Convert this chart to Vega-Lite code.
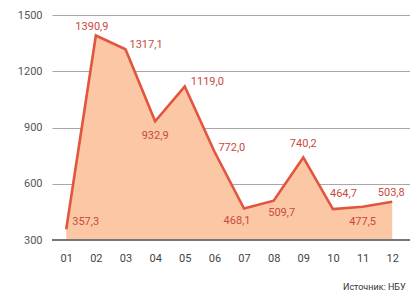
{
  "$schema": "https://vega.github.io/schema/vega-lite/v6.json",
  "width": 358,
  "height": 225,
  "autosize": {"type": "none"},
  "padding": {"left": 52, "top": 15, "right": 0, "bottom": 56},
  "background": "white",
  "title": {"text": "Источник: НБУ", "orient": "bottom", "anchor": "end", "fontSize": 9, "fontWeight": "normal", "color": "#333", "font": "Roboto", "offset": 20, "dx": -5},
  "config": {"view": {"stroke": null}, "font": "Roboto"},
  "data": {"values": [
    {"m": 1, "v": 357.3, "t": "357,3"},
    {"m": 2, "v": 1390.9, "t": "1390,9"},
    {"m": 3, "v": 1317.1, "t": "1317,1"},
    {"m": 4, "v": 932.9, "t": "932,9"},
    {"m": 5, "v": 1119.0, "t": "1119,0"},
    {"m": 6, "v": 772.0, "t": "772,0"},
    {"m": 7, "v": 468.1, "t": "468,1"},
    {"m": 8, "v": 509.7, "t": "509,7"},
    {"m": 9, "v": 740.2, "t": "740,2"},
    {"m": 10, "v": 464.7, "t": "464,7"},
    {"m": 11, "v": 477.5, "t": "477,5"},
    {"m": 12, "v": 503.8, "t": "503,8"}
  ]},
  "encoding": {
    "x": {"field": "m", "type": "quantitative", "scale": {"domain": [0.52, 12.6], "nice": false, "zero": false},
      "axis": {"values": [1,2,3,4,5,6,7,8,9,10,11,12], "labelExpr": "datum.value < 10 ? '0' + datum.value : '' + datum.value", "title": null, "domain": false, "ticks": false, "grid": false, "labelPadding": 12, "labelFontSize": 11, "labelColor": "#444", "labelDx": -2, "labelFont": "Roboto"}},
    "y": {"field": "v", "type": "quantitative", "scale": {"domain": [300, 1500], "nice": false, "zero": false},
      "axis": {"values": [300, 600, 900, 1200, 1500], "format": "d", "title": null, "domain": false, "ticks": false, "grid": true, "gridColor": "#a8a8a8", "gridWidth": 1, "labelPadding": 10, "labelFontSize": 11, "labelColor": "#555", "labelFont": "Roboto"}}
  },
  "layer": [
    {"mark": {"type": "area", "color": "#fbc7a4", "opacity": 1}, "encoding": {"y2": {"datum": 300}}},
    {"mark": {"type": "rule", "color": "#777", "strokeWidth": 1.2}, "encoding": {"x": {"datum": 0.52}, "x2": {"datum": 12.6}, "y": {"datum": 300}}},
    {"mark": {"type": "line", "color": "#e2553f", "strokeWidth": 2.6}},
    {"transform": [{"filter": "datum.m == 1"}], "mark": {"type": "text", "align": "left", "dx": 6, "dy": -7, "fontSize": 11, "color": "#c94a3e"}, "encoding": {"text": {"field": "t"}}},
    {"transform": [{"filter": "datum.m == 2"}], "mark": {"type": "text", "align": "center", "dx": -4, "dy": -8, "fontSize": 11, "color": "#c94a3e"}, "encoding": {"text": {"field": "t"}}},
    {"transform": [{"filter": "datum.m == 3 || datum.m == 6"}], "mark": {"type": "text", "align": "left", "dx": 4, "dy": -4, "fontSize": 11, "color": "#c94a3e"}, "encoding": {"text": {"field": "t"}}},
    {"transform": [{"filter": "datum.m == 5"}], "mark": {"type": "text", "align": "left", "dx": 6, "dy": -4, "fontSize": 11, "color": "#c94a3e"}, "encoding": {"text": {"field": "t"}}},
    {"transform": [{"filter": "datum.m == 4 || datum.m == 11"}], "mark": {"type": "text", "align": "center", "dx": 0, "dy": 15, "fontSize": 11, "color": "#c94a3e"}, "encoding": {"text": {"field": "t"}}},
    {"transform": [{"filter": "datum.m == 7"}], "mark": {"type": "text", "align": "center", "dx": -7, "dy": 13, "fontSize": 11, "color": "#c94a3e"}, "encoding": {"text": {"field": "t"}}},
    {"transform": [{"filter": "datum.m == 8"}], "mark": {"type": "text", "align": "center", "dx": 8, "dy": 12, "fontSize": 11, "color": "#c94a3e"}, "encoding": {"text": {"field": "t"}}},
    {"transform": [{"filter": "datum.m == 9"}], "mark": {"type": "text", "align": "center", "dx": 0, "dy": -13, "fontSize": 11, "color": "#c94a3e"}, "encoding": {"text": {"field": "t"}}},
    {"transform": [{"filter": "datum.m == 10"}], "mark": {"type": "text", "align": "left", "dx": -3, "dy": -15, "fontSize": 11, "color": "#c94a3e"}, "encoding": {"text": {"field": "t"}}},
    {"transform": [{"filter": "datum.m == 12"}], "mark": {"type": "text", "align": "center", "dx": -1, "dy": -9, "fontSize": 11, "color": "#c94a3e"}, "encoding": {"text": {"field": "t"}}}
  ]
}
